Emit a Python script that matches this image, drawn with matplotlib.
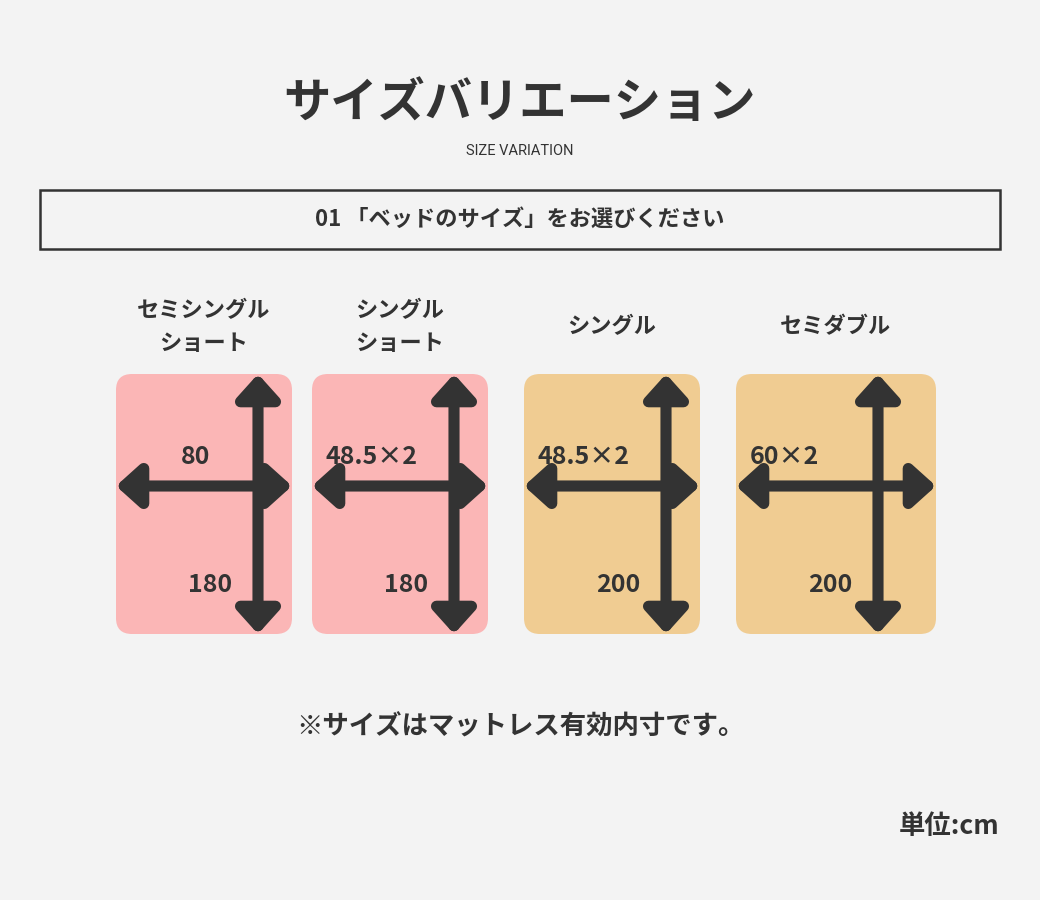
import matplotlib
matplotlib.use("Agg")
import matplotlib.pyplot as plt
from matplotlib.patches import FancyBboxPatch, Rectangle

plt.rcParams['font.family'] = ['Noto Sans CJK JP', 'DejaVu Sans']

names = ["セミシングル\nショート", "シングル\nショート", "シングル", "セミダブル"]
width_labels = ["80", "48.5×2", "48.5×2", "60×2"]
length_labels = ["180", "180", "200", "200"]
colors = ["#fbb6b6", "#fbb6b6", "#f0cc92", "#f0cc92"]
lefts = [116, 312, 524, 736]
widths = [176, 176, 176, 200]

fig = plt.figure(figsize=(10.4, 9), dpi=100, facecolor="#f3f3f3")
ax = fig.add_axes([0, 0, 1, 1])
ax.set_xlim(0, 1040); ax.set_ylim(900, 0); ax.axis("off")
ax.set_facecolor("#f3f3f3")
dark = "#333333"

ax.text(520, 103, "サイズバリエーション", ha="center", va="center", fontsize=34, fontweight="bold", color=dark)
ax.text(520, 151, "SIZE VARIATION", ha="center", va="center", fontsize=10.5, color=dark, family="Roboto")
ax.add_patch(Rectangle((40, 190), 960, 59, fill=False, ec=dark, lw=1.8))
ax.text(520, 219, "01 「ベッドのサイズ」をお選びください", ha="center", va="center", fontsize=16, fontweight="bold", color=dark)

top, bot = 374, 634
for n, wl, ll, c, x0, w in zip(names, width_labels, length_labels, colors, lefts, widths):
    ax.add_patch(FancyBboxPatch((x0 + 16, top + 16), w - 32, bot - top - 32,
                                boxstyle="round,pad=16", fc=c, ec="none"))
    ax.text(x0 + w / 2, 327, n, ha="center", va="center", fontsize=16, fontweight="bold",
            color=dark, linespacing=1.5)
    vx = x0 + w - 34 if w == 176 else x0 + w - 58
    ap = dict(arrowstyle="<|-|>,head_length=1.0,head_width=0.9", lw=8, color=dark,
              shrinkA=0, shrinkB=0, mutation_scale=14)
    ax.annotate("", xy=(x0, 486), xytext=(x0 + w, 486), arrowprops=ap)
    ax.annotate("", xy=(vx, top), xytext=(vx, bot), arrowprops=ap)
    ax.text(x0 + (w / 2 - 8 if w == 176 and wl == "80" else 14), 457, wl,
            ha="center" if wl == "80" else "left", va="center", fontsize=18, fontweight="bold", color=dark)
    ax.text(vx - 48, 585, ll, ha="center", va="center", fontsize=18, fontweight="bold", color=dark)

ax.text(520, 727, "※サイズはマットレス有効内寸です。", ha="center", va="center", fontsize=19, fontweight="bold", color=dark)
ax.text(1000, 826, "単位:cm", ha="right", va="center", fontsize=19, fontweight="bold", color=dark)

fig.savefig("out.png", dpi=100, facecolor="#f3f3f3")
